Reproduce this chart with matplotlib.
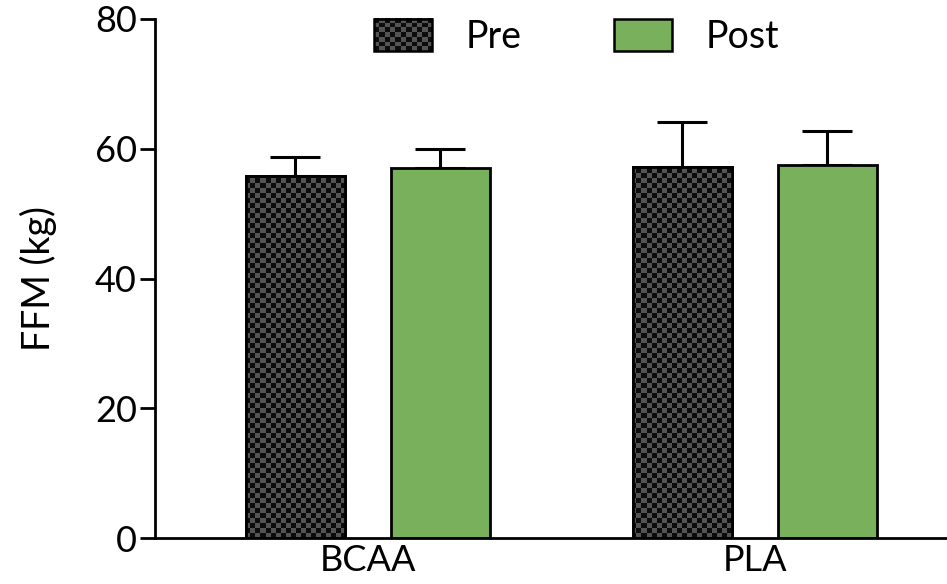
import numpy as np
import matplotlib.pyplot as plt
from matplotlib.patches import Rectangle
from matplotlib.legend_handler import HandlerBase
from matplotlib.image import BboxImage
from matplotlib.transforms import Bbox, TransformedBbox

plt.rcParams['font.family'] = ['Lato', 'DejaVu Sans']

groups = ['BCAA', 'PLA']
series = ['Pre', 'Post']
pre_mean = [55.8, 57.2]
pre_sd = [2.9, 6.9]
post_mean = [57.0, 57.5]
post_sd = [3.0, 5.2]
yticks = [0, 20, 40, 60, 80]

GREEN = '#78b05c'


def checker(nx, ny):
    yy, xx = np.mgrid[0:ny, 0:nx]
    c = ((xx + yy) % 2).astype(float)
    v = 0.05 + 0.28 * c
    return np.dstack([v, v, v])


class CheckerHandler(HandlerBase):
    def create_artists(self, legend, orig_handle, xdescent, ydescent, width, height, fontsize, trans):
        bb = TransformedBbox(Bbox.from_bounds(-xdescent, -ydescent, width, height), trans)
        img = BboxImage(bb, interpolation='nearest')
        img.set_data(checker(11, 7))
        rect = Rectangle((-xdescent, -ydescent), width, height, facecolor='none',
                         edgecolor='black', lw=1.8, transform=trans)
        return [img, rect]


fig = plt.figure(figsize=(9.47, 5.84), dpi=100)
ax = fig.add_axes([155 / 947, 1 - 538 / 584, 1 - 155 / 947, (538 - 19) / 584])

x = np.arange(len(groups))
w = 0.256
off = 0.187
xlim = (-0.55, 1.497)
ax.set_xlim(*xlim)
ax.set_ylim(0, 80)

pre_bars = ax.bar(x - off, pre_mean, w, color='#2b2b2b', edgecolor='black', lw=2, zorder=2)
post_bars = ax.bar(x + off, post_mean, w, color=GREEN, edgecolor='black', lw=2, zorder=2)

# checker texture inside the Pre bars
tex = checker(158, 104)
for b in pre_bars:
    im = ax.imshow(tex, extent=(xlim[0], xlim[1], 0, 80), aspect='auto',
                   interpolation='nearest', zorder=2.5)
    im.set_clip_path(b)
    edge = Rectangle(b.get_xy(), b.get_width(), b.get_height(), facecolor='none',
                     edgecolor='black', lw=2, zorder=3)
    ax.add_patch(edge)
ax.set_xlim(*xlim)
ax.set_ylim(0, 80)

ax.errorbar(x - off, pre_mean, yerr=[np.zeros(2), pre_sd], fmt='none', ecolor='black',
            elinewidth=2.2, capsize=18, capthick=2.2, zorder=1)
ax.errorbar(x + off, post_mean, yerr=[np.zeros(2), post_sd], fmt='none', ecolor='black',
            elinewidth=2.2, capsize=18, capthick=2.2, zorder=1)

ax.spines['top'].set_visible(False)
ax.spines['right'].set_visible(False)
ax.spines['left'].set_linewidth(2)
ax.spines['bottom'].set_linewidth(2)
ax.set_yticks(yticks)
ax.set_xticks(x)
ax.set_xticklabels(groups)
ax.tick_params(axis='y', length=11, width=2, labelsize=26, pad=2)
ax.tick_params(axis='x', length=0, labelsize=26, pad=4)
ax.set_ylabel('FFM (kg)', fontsize=27, labelpad=27)

leg = ax.legend([pre_bars, post_bars], series, loc='upper center', bbox_to_anchor=(0.532, 1.065),
                ncol=2, frameon=False, fontsize=27, handlelength=1.55, handleheight=0.95,
                handletextpad=0.9, columnspacing=2.45,
                handler_map={pre_bars: CheckerHandler()})
leg.legend_handles[1].set_edgecolor('black')
leg.legend_handles[1].set_linewidth(1.8)

fig.savefig('out.png', dpi=100)
